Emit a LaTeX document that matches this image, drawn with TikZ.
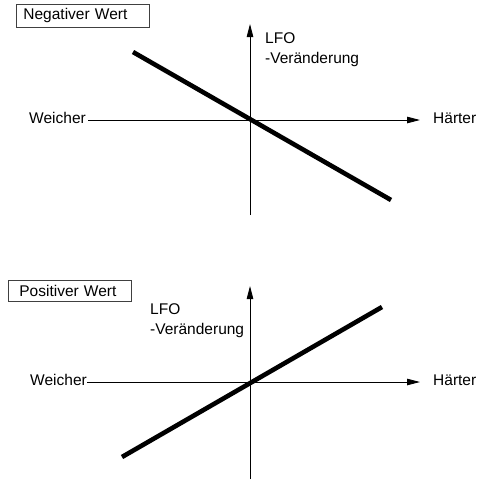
\documentclass[tikz,border=0pt]{standalone}
\usepackage{fontspec}
\setmainfont{Liberation Sans}
\usetikzlibrary{arrows.meta}
\tikzset{
  lbl/.style={inner sep=0pt, font=\fontsize{15.5}{20}\selectfont},
  tag/.style={lbl, draw=black!75, line width=0.8pt, anchor=north west, inner ysep=0pt},
  lfo/.style={lbl, anchor=north west, align=left},
  axis/.style={line width=0.9pt},
  axarrow/.style={axis, -{Triangle[length=13pt, width=6.5pt]}},
  slope/.style={line width=4.6pt}
}
\begin{document}
\begin{tikzpicture}[x=1pt, y=-1pt]
  \useasboundingbox (0,0) rectangle (482,480);
  % Negativer Wert
  \node[tag, minimum height=23pt, inner xsep=7pt, text width=119pt] (neg) at (16,4) {Negativer Wert};
  \node[lbl, anchor=east] (w1) at (86,118) {Weicher};
  \node[lbl, anchor=west] (h1) at (433,118) {Härter};
  \node[lfo] (l1) at (265,32) {LFO\\-Veränderung};
  \coordinate (o1) at (250,120);
  \coordinate (t1) at (250,24);
  \coordinate (b1) at (250,215);
  \coordinate (s1) at (133,52);
  \coordinate (e1) at (391,200);
  \draw[axarrow] ([xshift=2pt]w1.east |- o1) -- ([xshift=-13pt]h1.west |- o1);
  \draw[axarrow] (b1) -- (t1);
  \draw[slope] (s1) -- (e1);
  % Positiver Wert
  \node[tag, minimum height=21pt, inner xsep=11pt, text width=101pt] (pos) at (8,280) {Positiver Wert};
  \node[lbl, anchor=east] (w2) at (87,380) {Weicher};
  \node[lbl, anchor=west] (h2) at (433,380) {Härter};
  \node[lfo] (l2) at (150,303) {LFO\\-Veränderung};
  \coordinate (o2) at (250,382);
  \coordinate (t2) at (250,286);
  \coordinate (b2) at (250,479);
  \coordinate (s2) at (122,457);
  \coordinate (e2) at (382,307);
  \draw[axarrow] (w2.east |- o2) -- ([xshift=-13pt]h2.west |- o2);
  \draw[axarrow] (b2) -- (t2);
  \draw[slope] (s2) -- (e2);
\end{tikzpicture}
\end{document}
